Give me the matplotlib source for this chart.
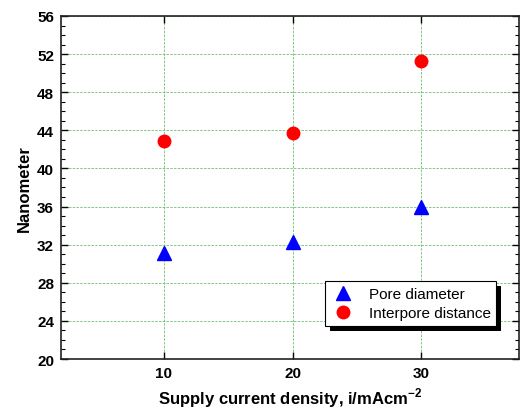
import matplotlib
matplotlib.use("Agg")
import matplotlib.pyplot as plt
from matplotlib.ticker import MultipleLocator
from matplotlib.patches import Rectangle

plt.rcParams['font.family'] = ['Liberation Sans', 'DejaVu Sans']
plt.rcParams['mathtext.fontset'] = 'custom'
plt.rcParams['mathtext.bf'] = 'Liberation Sans:bold'
plt.rcParams['mathtext.rm'] = 'Liberation Sans'

current = [10, 20, 30]
pore_diameter = [31.1, 32.3, 36.0]
interpore_distance = [42.9, 43.7, 51.3]

fig = plt.figure(figsize=(5.23, 4.14), dpi=100)
ax = fig.add_axes([0.1166, 0.1304, 0.8758, 0.8286])

ax.plot(current, pore_diameter, linestyle='none', marker='^', color='#0000ff',
        markersize=10, label='Pore diameter', zorder=3)
ax.plot(current, interpore_distance, linestyle='none', marker='o', color='#ff0000',
        markersize=9, label='Interpore distance', zorder=3)

ax.set_xlim(2, 37.6)
ax.set_ylim(20, 56)
ax.set_xticks(current)
ax.yaxis.set_major_locator(MultipleLocator(4))
ax.yaxis.set_minor_locator(MultipleLocator(1))

ax.grid(True, which='major', color='#4fae4f', linestyle=(0, (3, 1.5)), linewidth=0.6, alpha=0.8)
ax.set_axisbelow(True)

ax.tick_params(axis='both', which='major', direction='in', length=5, width=1,
               top=True, right=True, labelsize=11, pad=5)
ax.tick_params(axis='y', which='minor', direction='in', length=3, width=0.8, right=True)
for lab in ax.get_xticklabels() + ax.get_yticklabels():
    lab.set_fontweight('bold')
for sp in ax.spines.values():
    sp.set_linewidth(1.2)
    sp.set_color('#222222')

ax.set_xlabel('Supply current density, i/mAcm$^{\\mathbf{-2}}$', fontsize=12,
              fontweight='bold', labelpad=4)
ax.set_ylabel('Nanometer', fontsize=12, fontweight='bold', labelpad=4)

# legend box drawn by hand (axes fraction) with a black drop shadow
box_x, box_y, box_w, box_h = 0.576, 0.096, 0.374, 0.131
shadow = Rectangle((box_x + 0.011, box_y - 0.015), box_w, box_h, transform=ax.transAxes,
                   facecolor='black', edgecolor='none', zorder=4, clip_on=False)
frame = Rectangle((box_x, box_y), box_w, box_h, transform=ax.transAxes,
                  facecolor='white', edgecolor='black', linewidth=0.8,
                  zorder=4.5, clip_on=False)
ax.add_patch(shadow)
ax.add_patch(frame)

leg = ax.legend(loc='center', bbox_to_anchor=(box_x + box_w / 2, box_y + box_h / 2),
                borderaxespad=0, frameon=False, fontsize=11, handletextpad=0.8,
                borderpad=0.3, labelspacing=0.3, handlelength=1.8)
leg.set_zorder(5)

fig.savefig('out.png', dpi=100)
